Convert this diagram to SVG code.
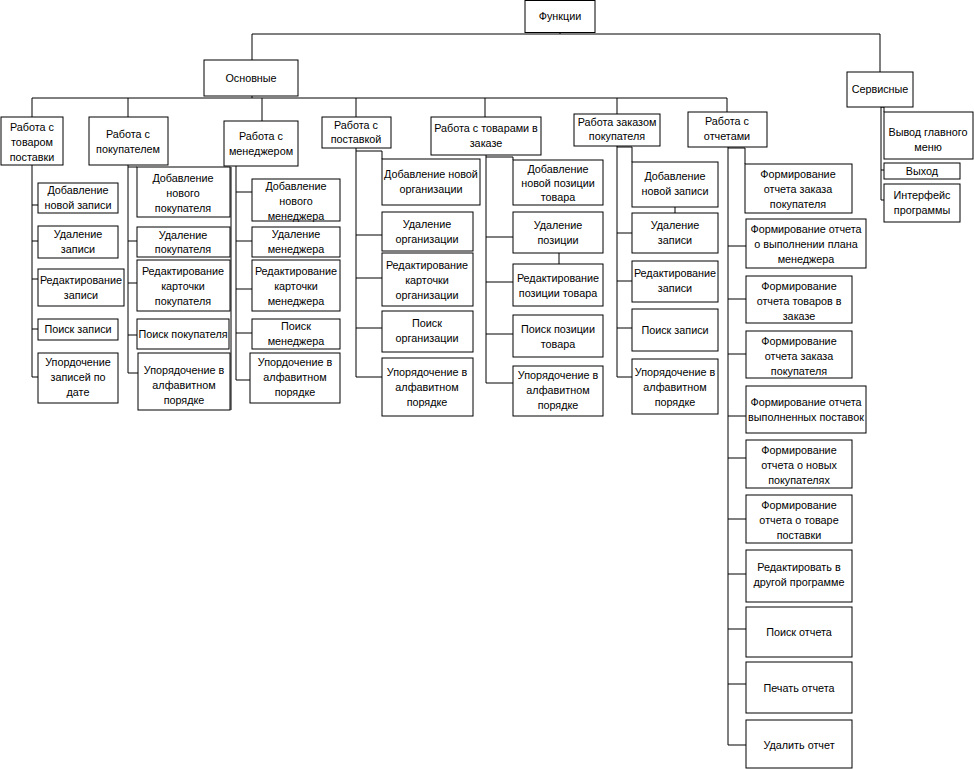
<svg xmlns="http://www.w3.org/2000/svg" width="974" height="769" viewBox="0 0 974 769">
<style>
.b{fill:#fff;stroke:#000;stroke-width:1}
.c{fill:none;stroke:#000;stroke-width:1}
text{font-family:"Liberation Sans",Arial,sans-serif;font-size:10.8px;fill:#000;text-anchor:middle}
</style>
<rect width="974" height="769" fill="#fff"/>
<g id="connectors" class="c">
<path d="M560,32V34M252,34H880M252,34V60M880,34V72"/>
<path d="M252,96V98M32,98H727M32,98V117M128,98V117M262,98V121M356,98V117M485,98V117M617,98V114M727,98V112"/>
<path d="M32,165V377M32,205H38M32,241H38M32,279H38M32,329H38M32,377H38"/>
<path d="M128,165V373M128,167H137M128,241H137M128,283H137M128,335H137M128,373H138M231,167V410"/>
<path d="M236,166V380M236,192H252M236,241H252M236,289H252M236,333H252M236,380H250"/>
<path d="M356,148V377M356,151H382V159M356,235H382M356,278H382M356,328H382M356,377H382"/>
<path d="M486,155V383M486,157H513V160M486,237H513M486,282H513M486,334H513M486,383H513M559,253V264"/>
<path d="M617,146V377M617,147H632V162M617,233H632M617,281H632M617,328H632M617,377H632M675,207V213"/>
<path d="M728,147V745M728,148H745V164M728,246H746M728,299H746M728,354H746M728,416H746M728,458H746M728,519H746M728,574H746M728,629H746M728,684H746M728,745H746"/>
<path d="M881,107V200M881,107H884V112M881,170H884M881,200H884"/>
</g>
<g id="n-func"><rect class="b" x="525" y="0.5" width="70" height="32"/><text x="560" y="20">Функции</text></g>
<g id="n-osn"><rect class="b" x="204" y="60" width="94" height="36"/><text x="251" y="82">Основные</text></g>
<g id="n-serv"><rect class="b" x="847" y="72" width="66" height="35"/><text x="880" y="93">Сервисные</text></g>
<g id="n-c1"><rect class="b" x="1" y="117" width="62" height="48"/><text x="32" y="131">Работа с<tspan x="32" dy="15">товаром</tspan><tspan x="32" dy="15">поставки</tspan></text></g>
<g id="n-c2"><rect class="b" x="89" y="117" width="79" height="48"/><text x="128" y="138">Работа с<tspan x="128" dy="15">покупателем</tspan></text></g>
<g id="n-c3"><rect class="b" x="224" y="121" width="74" height="45"/><text x="261" y="140">Работа с<tspan x="261" dy="15">менеджером</tspan></text></g>
<g id="n-c4"><rect class="b" x="322" y="117" width="69" height="31"/><text x="356" y="129">Работа с<tspan x="356" dy="14">поставкой</tspan></text></g>
<g id="n-c5"><rect class="b" x="431" y="117" width="110" height="38"/><text x="486" y="132">Работа с товарами в<tspan x="486" dy="15">заказе</tspan></text></g>
<g id="n-c6"><rect class="b" x="574" y="114" width="86" height="32"/><text x="617" y="126">Работа заказом<tspan x="617" dy="14">покупателя</tspan></text></g>
<g id="n-c7"><rect class="b" x="688" y="112" width="79" height="35"/><text x="727" y="125">Работа с<tspan x="727" dy="15">отчетами</tspan></text></g>

<g id="n-1a"><rect class="b" x="38" y="183" width="80" height="30"/><text x="78" y="194">Добавление<tspan x="78" dy="15">новой записи</tspan></text></g>
<g id="n-1b"><rect class="b" x="38" y="226" width="80" height="32"/><text x="78" y="238">Удаление<tspan x="78" dy="15">записи</tspan></text></g>
<g id="n-1c"><rect class="b" x="38" y="269" width="86" height="37"/><text x="81" y="284">Редактирование<tspan x="81" dy="15">записи</tspan></text></g>
<g id="n-1d"><rect class="b" x="38" y="319" width="80" height="21"/><text x="78" y="333">Поиск записи</text></g>
<g id="n-1e"><rect class="b" x="38" y="353" width="80" height="50"/><text x="78" y="366">Упордочение<tspan x="78" dy="15">записей по</tspan><tspan x="78" dy="15">дате</tspan></text></g>

<g id="n-2a"><rect class="b" x="137" y="167" width="93" height="50"/><text x="183" y="182">Добавление<tspan x="183" dy="15">нового</tspan><tspan x="183" dy="15">покупателя</tspan></text></g>
<g id="n-2b"><rect class="b" x="137" y="227" width="93" height="30"/><text x="183" y="239">Удаление<tspan x="183" dy="14">покупателя</tspan></text></g>
<g id="n-2c"><rect class="b" x="137" y="260" width="93" height="51"/><text x="183" y="275">Редактирование<tspan x="183" dy="15">карточки</tspan><tspan x="183" dy="15">покупателя</tspan></text></g>
<g id="n-2d"><rect class="b" x="137" y="319" width="92" height="30"/><text x="183" y="338">Поиск покупателя</text></g>
<g id="n-2e"><rect class="b" x="138" y="353" width="92" height="57"/><text x="184" y="374">Упорядочение в<tspan x="184" dy="15">алфавитном</tspan><tspan x="184" dy="15">порядке</tspan></text></g>

<g id="n-3a"><rect class="b" x="252" y="179" width="88" height="42"/><text x="296" y="190">Добавление<tspan x="296" dy="15">нового</tspan><tspan x="296" dy="15">менеджера</tspan></text></g>
<g id="n-3b"><rect class="b" x="252" y="227" width="88" height="30"/><text x="296" y="238">Удаление<tspan x="296" dy="15">менеджера</tspan></text></g>
<g id="n-3c"><rect class="b" x="252" y="260" width="88" height="51"/><text x="296" y="275">Редактирование<tspan x="296" dy="15">карточки</tspan><tspan x="296" dy="15">менеджера</tspan></text></g>
<g id="n-3d"><rect class="b" x="252" y="319" width="88" height="30"/><text x="296" y="330">Поиск<tspan x="296" dy="15">менеджера</tspan></text></g>
<g id="n-3e"><rect class="b" x="250" y="353" width="90" height="50"/><text x="295" y="366">Упордочение в<tspan x="295" dy="15">алфавитном</tspan><tspan x="295" dy="15">порядке</tspan></text></g>

<g id="n-4a"><rect class="b" x="382" y="159" width="98" height="46"/><text x="431" y="178">Добавление новой<tspan x="431" dy="15">организации</tspan></text></g>
<g id="n-4b"><rect class="b" x="382" y="212" width="91" height="39"/><text x="427" y="228">Удаление<tspan x="427" dy="15">организации</tspan></text></g>
<g id="n-4c"><rect class="b" x="382" y="253" width="91" height="53"/><text x="427" y="269">Редактирование<tspan x="427" dy="15">карточки</tspan><tspan x="427" dy="15">организации</tspan></text></g>
<g id="n-4d"><rect class="b" x="382" y="311" width="91" height="41"/><text x="427" y="327">Поиск<tspan x="427" dy="15">организации</tspan></text></g>
<g id="n-4e"><rect class="b" x="382" y="358" width="91" height="58"/><text x="427" y="376">Упорядочение в<tspan x="427" dy="15">алфавитном</tspan><tspan x="427" dy="15">порядке</tspan></text></g>

<g id="n-5a"><rect class="b" x="513" y="160" width="90" height="45"/><text x="558" y="173">Добавление<tspan x="558" dy="14">новой позиции</tspan><tspan x="558" dy="14">товара</tspan></text></g>
<g id="n-5b"><rect class="b" x="513" y="212" width="90" height="41"/><text x="558" y="229">Удаление<tspan x="558" dy="15">позиции</tspan></text></g>
<g id="n-5c"><rect class="b" x="513" y="264" width="90" height="42"/><text x="558" y="282">Редактирование<tspan x="558" dy="15">позиции товара</tspan></text></g>
<g id="n-5d"><rect class="b" x="513" y="315" width="90" height="42"/><text x="558" y="333">Поиск позиции<tspan x="558" dy="15">товара</tspan></text></g>
<g id="n-5e"><rect class="b" x="513" y="366" width="90" height="50"/><text x="558" y="379">Упорядочение в<tspan x="558" dy="15">алфавитном</tspan><tspan x="558" dy="15">порядке</tspan></text></g>

<g id="n-6a"><rect class="b" x="632" y="162" width="86" height="45"/><text x="675" y="180">Добавление<tspan x="675" dy="15">новой записи</tspan></text></g>
<g id="n-6b"><rect class="b" x="632" y="213" width="86" height="40"/><text x="675" y="229">Удаление<tspan x="675" dy="15">записи</tspan></text></g>
<g id="n-6c"><rect class="b" x="632" y="261" width="86" height="41"/><text x="675" y="277">Редактирование<tspan x="675" dy="15">записи</tspan></text></g>
<g id="n-6d"><rect class="b" x="632" y="309" width="86" height="42"/><text x="675" y="334">Поиск записи</text></g>
<g id="n-6e"><rect class="b" x="632" y="359" width="86" height="55"/><text x="675" y="376">Упорядочение в<tspan x="675" dy="15">алфавитном</tspan><tspan x="675" dy="15">порядке</tspan></text></g>

<g id="n-7a"><rect class="b" x="745" y="164" width="107" height="49"/><text x="798" y="178">Формирование<tspan x="798" dy="15">отчета заказа</tspan><tspan x="798" dy="15">покупателя</tspan></text></g>
<g id="n-7b"><rect class="b" x="746" y="219" width="120" height="49"/><text x="806" y="233">Формирование отчета<tspan x="806" dy="15">о выполнении плана</tspan><tspan x="806" dy="15">менеджера</tspan></text></g>
<g id="n-7c"><rect class="b" x="746" y="276" width="106" height="47"/><text x="799" y="290">Формирование<tspan x="799" dy="15">отчета товаров в</tspan><tspan x="799" dy="15">заказе</tspan></text></g>
<g id="n-7d"><rect class="b" x="746" y="331" width="106" height="47"/><text x="799" y="345">Формирование<tspan x="799" dy="15">отчета заказа</tspan><tspan x="799" dy="15">покупателя</tspan></text></g>
<g id="n-7e"><rect class="b" x="746" y="386" width="120" height="47"/><text x="806" y="406">Формирование отчета<tspan x="806" dy="15">выполненных поставок</tspan></text></g>
<g id="n-7f"><rect class="b" x="746" y="440" width="106" height="48"/><text x="799" y="454">Формирование<tspan x="799" dy="15">отчета о новых</tspan><tspan x="799" dy="15">покупателях</tspan></text></g>
<g id="n-7g"><rect class="b" x="746" y="495" width="106" height="48"/><text x="799" y="509">Формирование<tspan x="799" dy="15">отчета о товаре</tspan><tspan x="799" dy="15">поставки</tspan></text></g>
<g id="n-7h"><rect class="b" x="746" y="550" width="106" height="52"/><text x="799" y="571">Редактировать в<tspan x="799" dy="15">другой программе</tspan></text></g>
<g id="n-7i"><rect class="b" x="746" y="607" width="106" height="50"/><text x="799" y="636">Поиск отчета</text></g>
<g id="n-7j"><rect class="b" x="746" y="662" width="106" height="51"/><text x="799" y="692">Печать отчета</text></g>
<g id="n-7k"><rect class="b" x="746" y="720" width="106" height="48"/><text x="799" y="749">Удалить отчет</text></g>

<g id="n-sa"><rect class="b" x="884" y="112" width="89" height="47"/><text x="928" y="136">Вывод главного<tspan x="928" dy="15">меню</tspan></text></g>
<g id="n-sb"><rect class="b" x="884" y="163" width="76" height="16"/><text x="922" y="175">Выход</text></g>
<g id="n-sc"><rect class="b" x="884" y="184" width="76" height="38"/><text x="922" y="199">Интерфейс<tspan x="922" dy="15">программы</tspan></text></g>
</svg>
